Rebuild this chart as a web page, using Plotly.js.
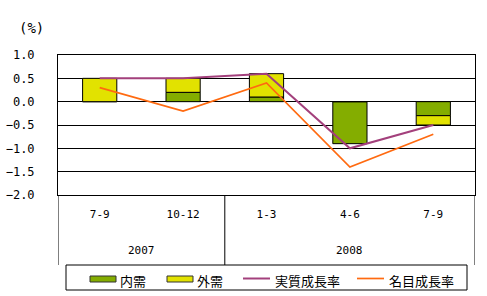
<!DOCTYPE html>
<html><head><meta charset="utf-8">
<script src="https://cdn.plot.ly/plotly-3.0.1.min.js"></script>
<style>html,body{margin:0;padding:0;background:#fff}#chart{width:487px;height:296px}</style>
</head><body><div id="chart"></div>
<script>
const quarters = ["7-9", "10-12", "1-3", "4-6", "7-9"];
const years = ["2007", "2008"];
const yearCenters = [0.5, 3];
const yearDividers = [-0.5, 1.5, 4.5];
const domestic = [0.0, 0.2, 0.1, -0.9, -0.3];
const external = [0.5, 0.3, 0.5, 0.0, -0.2];
const realGrowth = [0.5, 0.5, 0.6, -1.0, -0.5];
const nominalGrowth = [0.3, -0.2, 0.4, -1.4, -0.7];
const names = ["内需", "外需", "実質成長率", "名目成長率"];
const colors = ["#84ad00", "#e2e200", "#a3407c", "#ff6a10"];

const fontMono = "DejaVu Sans Mono, monospace";
const fontJP = "Noto Sans CJK JP, sans-serif";

// plot area in pixels: x 58..475, y 55..195
const L = 58, W = 417, B = 195, H = 140;
const px = v => (v - L) / W;
const py = v => (B - v) / H;

const xIdx = quarters.map((_, i) => i);
const traces = [
  {type: "bar", name: names[0], x: xIdx, y: domestic, width: 0.41,
   marker: {color: colors[0], line: {color: "#000", width: 1}}},
  {type: "bar", name: names[1], x: xIdx, y: external, width: 0.41,
   marker: {color: colors[1], line: {color: "#000", width: 1}}},
  {type: "scatter", mode: "lines", name: names[2], x: xIdx, y: realGrowth,
   line: {color: colors[2], width: 2}},
  {type: "scatter", mode: "lines", name: names[3], x: xIdx, y: nominalGrowth,
   line: {color: colors[3], width: 1.7}}
];

const shapes = yearDividers.map(v => ({type: "line", xref: "x", yref: "paper",
  x0: v, x1: v, y0: 0, y1: py(265), line: {color: "#000", width: 1}}));

// legend box
shapes.push({type: "rect", xref: "paper", yref: "paper", x0: px(66), x1: px(467), y0: py(265), y1: py(290),
  line: {color: "#000", width: 1}, fillcolor: "rgba(0,0,0,0)"});
// legend swatches
const legendSw = [[90, 116], [167, 193], [243, 270], [357, 384]];
const legendTx = [118, 195, 273, 387];
const annotations = [];
names.forEach((n, i) => {
  const [a, b] = legendSw[i];
  if (i < 2) {
    shapes.push({type: "rect", xref: "paper", yref: "paper", x0: px(a), x1: px(b), y0: py(276), y1: py(282),
      line: {color: "#333", width: 1}, fillcolor: colors[i]});
  } else {
    shapes.push({type: "line", xref: "paper", yref: "paper", x0: px(a), x1: px(b), y0: py(278.5), y1: py(278.5),
      line: {color: colors[i], width: i === 2 ? 2 : 1.7}});
  }
  annotations.push({xref: "paper", yref: "paper", x: px(legendTx[i]), y: py(280.5), xanchor: "left", yanchor: "middle",
    text: n, showarrow: false, font: {family: fontJP, size: 13, color: "#000"}});
});

years.forEach((t, i) => annotations.push({xref: "x", yref: "paper", x: yearCenters[i],
  y: py(250), xanchor: "center", yanchor: "middle", text: t, showarrow: false,
  font: {family: fontMono, size: 11, color: "#000"}}));
annotations.push({xref: "paper", yref: "paper", x: px(17), y: py(28),
  xanchor: "left", yanchor: "middle", text: "(%)", showarrow: false,
  font: {family: fontMono, size: 14, color: "#000"}});

const layout = {
  width: 487, height: 296,
  margin: {l: 58, r: 12, t: 55, b: 101, pad: 0},
  paper_bgcolor: "#fff", plot_bgcolor: "#fff",
  barmode: "relative", showlegend: false,
  xaxis: {range: [-0.5, 4.5], tickvals: xIdx, ticktext: quarters, showgrid: false,
    showline: true, mirror: true, linecolor: "#000", linewidth: 1, zeroline: false,
    ticks: "", ticklabelstandoff: 9, tickfont: {family: fontMono, size: 11, color: "#000"}, fixedrange: true},
  yaxis: {range: [-2, 1], dtick: 0.5, tick0: 0, tickformat: ".1f", showgrid: true, gridcolor: "#000", gridwidth: 1,
    zeroline: true, zerolinecolor: "#000", zerolinewidth: 1,
    showline: true, mirror: true, linecolor: "#000", linewidth: 1,
    ticks: "", ticklabelstandoff: 20, tickfont: {family: fontMono, size: 12, color: "#000"}, fixedrange: true},
  shapes: shapes, annotations: annotations
};
Plotly.newPlot("chart", traces, layout, {displayModeBar: false, staticPlot: true});
</script></body></html>
